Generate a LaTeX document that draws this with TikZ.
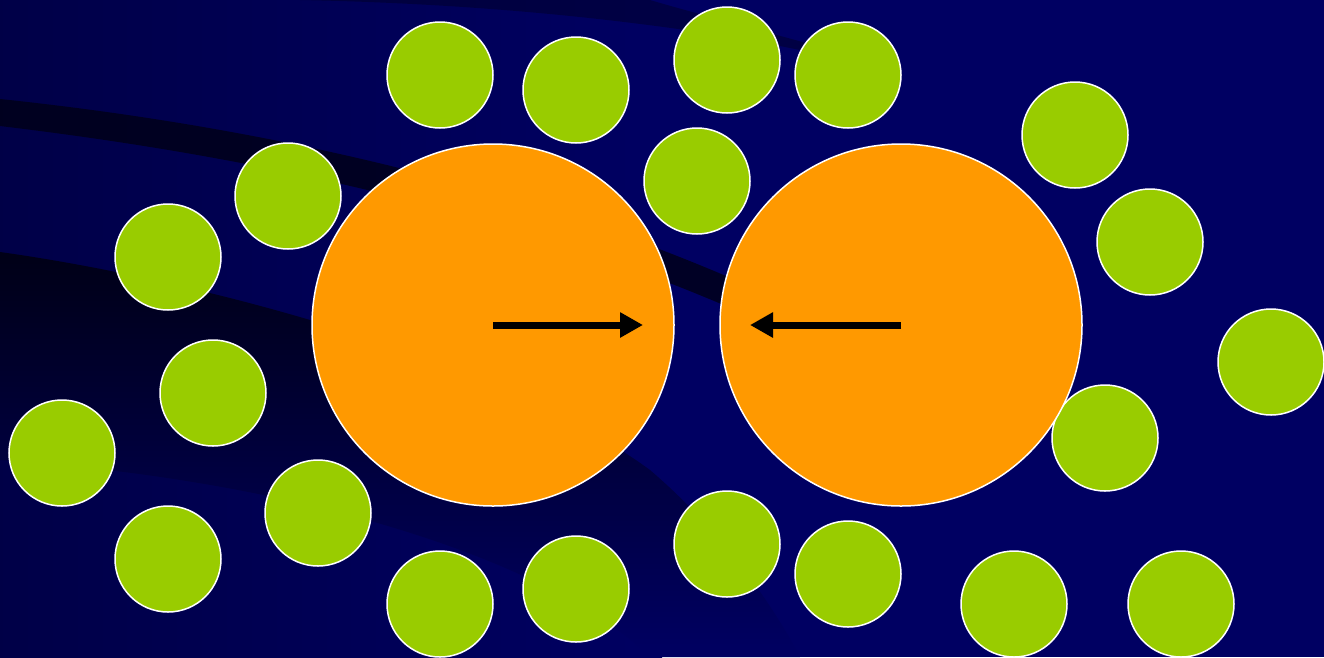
\documentclass[tikz,border=0pt]{standalone}
\usetikzlibrary{arrows.meta}
\definecolor{navy}{RGB}{0,0,98}
\definecolor{darknavy}{RGB}{0,0,40}
\definecolor{deepnavy}{RGB}{0,0,22}
\definecolor{ballgreen}{RGB}{153,204,0}
\definecolor{ballorange}{RGB}{255,153,0}
\tikzset{
  small/.style={circle,draw=white,line width=1.5pt,fill=ballgreen,minimum size=106pt,inner sep=0pt},
  big/.style={circle,draw=white,line width=1.5pt,fill=ballorange,minimum size=362pt,inner sep=0pt},
  force/.style={line width=7pt,-{Triangle[length=23pt,width=24pt]}}
}
\begin{document}
\begin{tikzpicture}[x=1pt,y=-1pt]
\useasboundingbox (0,0) rectangle (1324,657);
% background
\shade[left color=deepnavy!35!navy,right color=navy] (0,0) rectangle (662,657);
\fill[navy] (661,0) rectangle (1324,657);
% top band
\fill[darknavy,opacity=0.5] (300,0) .. controls (450,3) and (600,15) .. (750,40) -- (900,70) .. controls (800,40) and (700,15) .. (650,0) -- cycle;
% dark band
\fill[deepnavy,opacity=0.8] (0,99) .. controls (200,120) and (500,170) .. (780,300) -- (780,330) .. controls (500,200) and (200,150) .. (0,126) -- cycle;
% dark lower region
\begin{scope}
\clip (0,252) .. controls (200,280) and (500,360) .. (650,470) .. controls (720,530) and (770,600) .. (800,657) -- (650,657) .. controls (550,560) and (300,480) .. (0,460) -- cycle;
\shade[top color=deepnavy,bottom color=navy] (0,250) rectangle (800,657);
\end{scope}
% green balls
\node[small] (g1) at (440,75) {};
\node[small] (g2) at (576,90) {};
\node[small] (g3) at (727,60) {};
\node[small] (g4) at (848,75) {};
\node[small] (g5) at (697,181) {};
\node[small] (g6) at (1075,135) {};
\node[small] (g7) at (1150,242) {};
\node[small] (g8) at (1271,362) {};
\node[small] (g9) at (1105,438) {};
\node[small] (g10) at (288,196) {};
\node[small] (g11) at (168,257) {};
\node[small] (g12) at (213,393) {};
\node[small] (g13) at (62,453) {};
\node[small] (g14) at (318,513) {};
\node[small] (g15) at (168,559) {};
\node[small] (g16) at (440,604) {};
\node[small] (g17) at (576,589) {};
\node[small] (g18) at (727,544) {};
\node[small] (g19) at (848,574) {};
\node[small] (g20) at (1014,604) {};
\node[small] (g21) at (1181,604) {};
% big balls
\node[big] (L) at (493,325) {};
\node[big] (R) at (901,325) {};
\coordinate (Ltip) at (643,325);
\coordinate (Rtip) at (750,325);
\draw[force] (L.center) -- (Ltip);
\draw[force] (R.center) -- (Rtip);
\end{tikzpicture}
\end{document}
